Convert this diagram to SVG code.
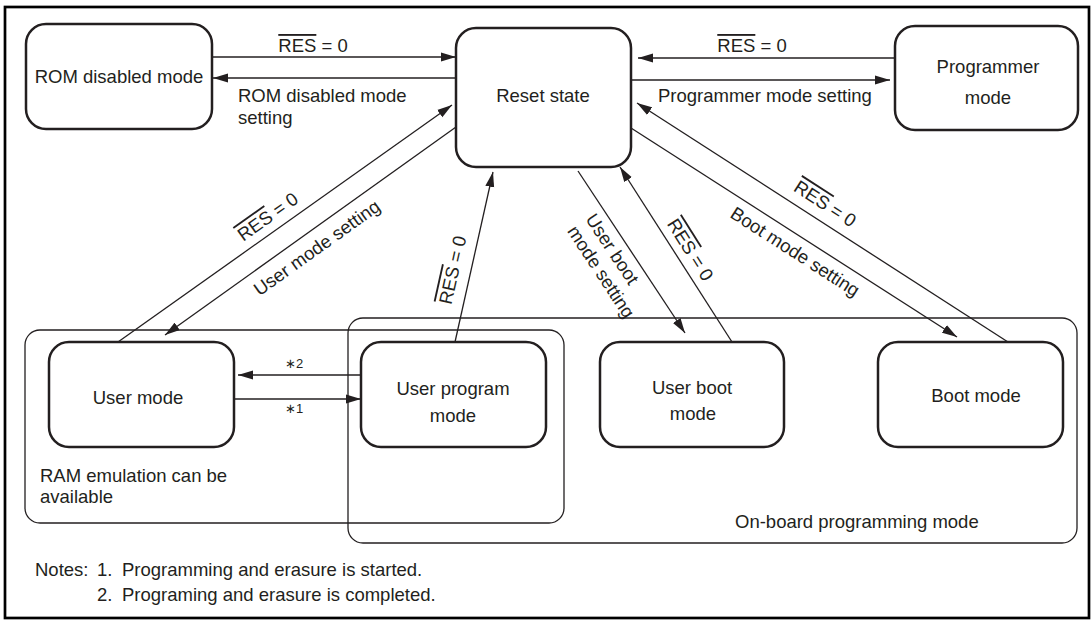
<svg xmlns="http://www.w3.org/2000/svg" width="1092" height="621" viewBox="0 0 1092 621">
<style>
text{font-family:"Liberation Sans",Arial,Helvetica,sans-serif;font-size:18.5px;fill:#231f20}
.c{text-anchor:middle}
.ov{text-decoration:overline}
.node{fill:#fff;stroke:#231f20;stroke-width:2.5}
.grp{fill:none;stroke:#231f20;stroke-width:1.3}
.frame{fill:none;stroke:#000;stroke-width:2.7}
.ln{fill:none;stroke:#231f20;stroke-width:1.3}
.arr{marker-end:url(#ah)}
.small{font-size:13px}
</style>
<defs>
<marker id="ah" markerUnits="userSpaceOnUse" markerWidth="16" markerHeight="10" refX="15" refY="5" orient="auto">
<path d="M0,0.5 L15,5 L0,9.5 z" fill="#231f20"/>
</marker>
</defs>
<rect class="frame" x="5" y="7" width="1084" height="611"/>
<g id="group-ram">
<rect class="grp" x="25" y="330" width="539" height="193" rx="15"/>
<text x="40" y="482">RAM emulation can be</text>
<text x="40" y="503">available</text>
</g>
<g id="group-onboard">
<rect class="grp" x="348" y="318" width="729" height="225" rx="15"/>
<text x="735" y="528">On-board programming mode</text>
</g>
<g id="connectors">
<line class="ln arr" x1="212" y1="57" x2="456" y2="57"/>
<line class="ln arr" x1="456" y1="78" x2="213" y2="78"/>
<line class="ln arr" x1="895" y1="58" x2="638" y2="58"/>
<line class="ln arr" x1="631" y1="80" x2="890" y2="80"/>
<line class="ln arr" x1="118" y1="342" x2="452" y2="105"/>
<line class="ln arr" x1="456" y1="127" x2="165" y2="335"/>
<line class="ln arr" x1="455" y1="342" x2="493" y2="172"/>
<line class="ln arr" x1="578" y1="171" x2="685" y2="333"/>
<line class="ln arr" x1="732" y1="342" x2="620" y2="167"/>
<line class="ln arr" x1="1008" y1="342" x2="637" y2="103"/>
<line class="ln arr" x1="631" y1="128" x2="957" y2="337"/>
<line class="ln arr" x1="361" y1="375" x2="238" y2="375"/>
<line class="ln arr" x1="235" y1="399" x2="361" y2="399"/>
<text x="313" y="52" class="c"><tspan class="ov">RES</tspan> = 0</text>
<text x="238" y="102">ROM disabled mode</text>
<text x="238" y="124">setting</text>
<text x="752" y="52" class="c"><tspan class="ov">RES</tspan> = 0</text>
<text x="658" y="102">Programmer mode setting</text>
<text transform="translate(268,217) rotate(-35.4)" x="0" y="6" class="c"><tspan class="ov">RES</tspan> = 0</text>
<text transform="translate(317,248) rotate(-35.6)" x="0" y="6" class="c">User mode setting</text>
<text transform="translate(453,270) rotate(-77.4)" x="0" y="6" class="c"><tspan class="ov">RES</tspan> = 0</text>
<g transform="translate(585,219) rotate(56.6)">
<text x="0" y="0">User boot</text>
<text x="0" y="22">mode setting</text>
</g>
<text transform="translate(690,250) rotate(57.7)" x="0" y="6" class="c"><tspan class="ov">RES</tspan> = 0</text>
<text transform="translate(825,204) rotate(32.8)" x="0" y="6" class="c"><tspan class="ov">RES</tspan> = 0</text>
<text transform="translate(795,252) rotate(32.7)" x="0" y="6" class="c">Boot mode setting</text>
<text x="285" y="368" class="small">∗2</text>
<text x="285" y="413" class="small">∗1</text>
</g>
<g id="node-rom">
<rect class="node" x="26" y="24" width="186" height="105" rx="20"/>
<text x="119" y="83" class="c">ROM disabled mode</text>
</g>
<g id="node-reset">
<rect class="node" x="456" y="28" width="175" height="139" rx="20"/>
<text x="543" y="102" class="c">Reset state</text>
</g>
<g id="node-programmer">
<rect class="node" x="895" y="26" width="183" height="104" rx="20"/>
<text x="988" y="73" class="c">Programmer</text>
<text x="988" y="104" class="c">mode</text>
</g>
<g id="node-user">
<rect class="node" x="49" y="342" width="185" height="105" rx="20"/>
<text x="138" y="404" class="c">User mode</text>
</g>
<g id="node-userprogram">
<rect class="node" x="361" y="342" width="185" height="105" rx="20"/>
<text x="453" y="395" class="c">User program</text>
<text x="453" y="422" class="c">mode</text>
</g>
<g id="node-userboot">
<rect class="node" x="600" y="342" width="184" height="105" rx="20"/>
<text x="692" y="394" class="c">User boot</text>
<text x="693" y="420" class="c">mode</text>
</g>
<g id="node-boot">
<rect class="node" x="878" y="342" width="185" height="105" rx="20"/>
<text x="976" y="402" class="c">Boot mode</text>
</g>
<g id="notes">
<text x="35" y="576">Notes:</text>
<text x="97" y="576">1.</text>
<text x="122" y="576">Programming and erasure is started.</text>
<text x="97" y="601">2.</text>
<text x="122" y="601">Programing and erasure is completed.</text>
</g>
</svg>
